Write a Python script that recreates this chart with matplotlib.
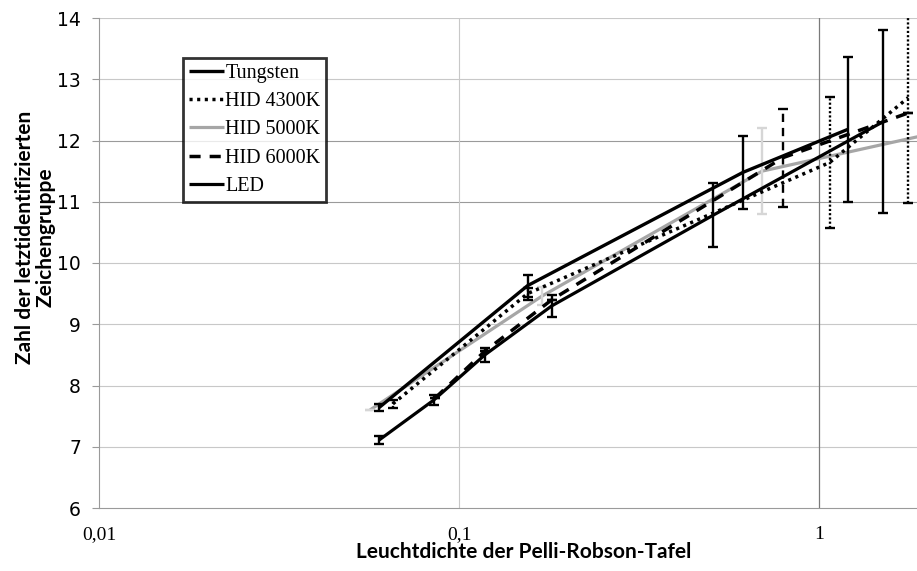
import matplotlib
matplotlib.use("Agg")
import matplotlib.pyplot as plt
import numpy as np

# ---- data ----
tung_x = [0.060, 0.155, 0.615, 1.20]
tung_y = [7.64, 9.63, 11.48, 12.18]
tung_e = [0.05, 0.18, 0.60, 1.18]

h43_x = [0.0655, 0.155, 1.07, 1.77]
h43_y = [7.70, 9.50, 11.64, 12.70]
h43_e = [0.06, 0.10, 1.07, 1.72]

h50_x = [0.0566, 0.170, 0.695, 2.20]
h50_y = [7.60, 9.46, 11.50, 12.15]
h50_e = [0.0, 0.15, 0.70, 0.0]

h60_x = [0.086, 0.118, 0.181, 0.794, 1.77]
h60_y = [7.80, 8.56, 9.40, 11.72, 12.45]
h60_e = [0.0, 0.0, 0.0, 0.80, 0.0]

led_x = [0.060, 0.085, 0.118, 0.181, 0.508, 1.51]
led_y = [7.11, 7.76, 8.50, 9.30, 10.78, 12.31]
led_e = [0.06, 0.08, 0.12, 0.18, 0.52, 1.50]

labels = ["Tungsten", "HID 4300K", "HID 5000K", "HID 6000K", "LED"]
xticks = [0.01, 0.1, 1]
xticklabels = ["0,01", "0,1", "1"]
yticks = list(range(6, 15))

W, H = 917, 571
fig = plt.figure(figsize=(W / 100, H / 100), dpi=100)
ax = fig.add_axes([99 / W, 1 - 508 / H, (917 - 99) / W, (508 - 18) / H])
ax.set_xscale("log")
ax.set_xlim(0.01, 10 ** ((917 - 99) / 360 - 2))
ax.set_ylim(6, 14)

# grid
for v in yticks[1:]:
    c = "#9a9a9a" if v in (11, 12) else "#c8c8c8"
    ax.axhline(v, color=c, lw=0.8, zorder=0)
ax.axvline(0.1, color="#c8c8c8", lw=0.8, zorder=0)
ax.axvline(1, color="#7a7a7a", lw=0.9, zorder=0)

def series(x, y, e, color, ls, lw, ecolor, els, label, z):
    line, = ax.plot(x, y, color=color, ls=ls, lw=lw, label=label, zorder=z,
                    solid_capstyle="butt", dash_capstyle="butt")
    eb = ax.errorbar(x, y, yerr=e, fmt="none", ecolor=ecolor, elinewidth=1.7,
                     capsize=3.5, capthick=1.7, zorder=z + 0.5)
    for lc in eb[2]:
        lc.set_linestyle(els)
    return line

series(h50_x, h50_y, h50_e, "#a6a6a6", "-", 2.3, "#d6d6d6", "-", labels[2], 2)
series(h43_x, h43_y, h43_e, "black", (0, (0.9, 1.3)), 2.5, "black", (0, (0.9, 0.9)), labels[1], 3)
series(h60_x, h60_y, h60_e, "black", (0, (3.2, 2.6)), 2.5, "black", (0, (3.5, 2.5)), labels[3], 4)
series(led_x, led_y, led_e, "black", "-", 2.3, "black", "-", labels[4], 5)
series(tung_x, tung_y, tung_e, "black", "-", 2.4, "black", "-", labels[0], 6)

# axes styling
for s in ("top", "right"):
    ax.spines[s].set_visible(False)
ax.spines["left"].set_color("#9a9a9a")
ax.spines["bottom"].set_color("#9a9a9a")
ax.spines["left"].set_linewidth(0.8)
ax.spines["bottom"].set_linewidth(0.8)
ax.set_yticks(yticks)
ax.set_yticklabels([str(v) for v in yticks], fontfamily="DejaVu Sans", fontsize=13.5)
ax.tick_params(axis="y", length=5, color="#9a9a9a", width=0.8, pad=8)
ax.set_xticks(xticks)
ax.set_xticklabels(xticklabels, fontfamily="Liberation Serif", fontsize=14)
ax.xaxis.set_minor_locator(matplotlib.ticker.NullLocator())
ax.tick_params(axis="x", length=0, pad=13)

fig.text(524 / W, 1 - 552 / H, "Leuchtdichte der Pelli-Robson-Tafel",
         fontfamily="Lato", fontweight="bold", fontsize=15, ha="center", va="center")
fig.text(35 / W, 1 - 237 / H, "Zahl der letztidentifizierten\nZeichengruppe",
         fontfamily="Lato", fontweight="bold", fontsize=15, ha="center", va="center",
         rotation=90, multialignment="center", linespacing=1.05)

# legend
handles, labs = ax.get_legend_handles_labels()
order = [labs.index(l) for l in labels]
leg = ax.legend([handles[i] for i in order], [labs[i] for i in order],
                loc="upper left", bbox_to_anchor=((183 - 99) / 818, 1 - (58 - 18) / 490),
                prop={"family": "Liberation Serif", "size": 14.5},
                handlelength=1.75, handletextpad=0.05, borderpad=0.3,
                borderaxespad=0, labelspacing=0.45, frameon=True, fancybox=False,
                handleheight=0.7)
leg.get_frame().set_edgecolor("black")
leg.get_frame().set_linewidth(2.0)

fig.savefig("out.png", dpi=100)
